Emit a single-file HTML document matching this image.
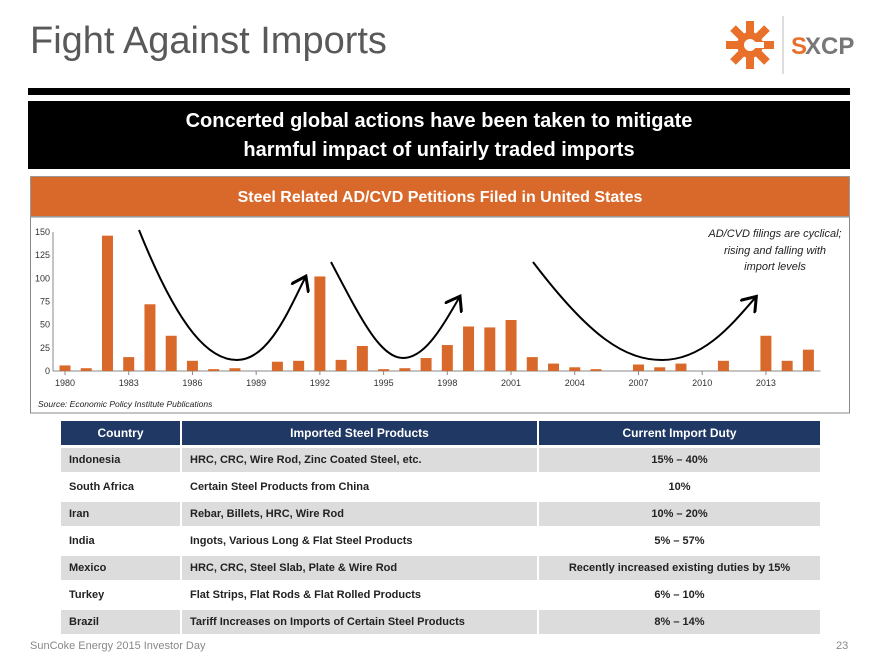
<!DOCTYPE html>
<html><head><meta charset="utf-8"><style>
body{margin:0;width:880px;height:660px;background:#fff;font-family:"Liberation Sans",sans-serif;position:relative;overflow:hidden}
.abs{position:absolute}
table{border-collapse:separate;border-spacing:2px 3px}
td{font-size:11px;font-weight:bold;color:#222;height:24px;padding:0 8px}
</style></head><body>
<div class="abs" style="left:30px;top:20px;font-size:38px;color:#595959">Fight Against Imports</div>
<svg class="abs" style="left:720px;top:12px" width="140" height="66">
<g fill="#e8702a" transform="translate(30,33)">
<circle r="13"/>
<rect x="-4" y="-24" width="8" height="48"/><rect x="-24" y="-4" width="48" height="8"/>
<rect x="-4" y="-24" width="8" height="48" transform="rotate(45)"/><rect x="-4" y="-24" width="8" height="48" transform="rotate(-45)"/>
<circle r="6" fill="#fff"/><rect x="0" y="-3" width="14" height="6" fill="#fff"/></g>
<line x1="63" y1="4" x2="63" y2="62" stroke="#bbb"/>
<text x="71" y="42" font-size="24" font-weight="bold" fill="#e8702a">S</text><text x="85" y="42" font-size="24" font-weight="bold" fill="#777">XCP</text>
</svg>
<div class="abs" style="left:28px;top:88px;width:822px;height:7px;background:#000"></div>
<div class="abs" style="left:28px;top:101px;width:822px;height:68px;background:#000;color:#fff;font-size:20px;font-weight:bold;text-align:center;line-height:29px;padding-top:6px;box-sizing:border-box">Concerted global actions have been taken to mitigate<br>harmful impact of unfairly traded imports</div>
<div class="abs" style="left:30px;top:176px;width:820px;height:41px;background:#d9692b;color:#fff;font-size:16px;font-weight:bold;text-align:center;line-height:41px;border:1px solid #999;box-sizing:border-box">Steel Related AD/CVD Petitions Filed in United States</div>
<svg id="chart" class="abs" style="left:30px;top:217px" width="820" height="197"></svg>
<div class="abs" style="left:59px;top:418px">
<table>
<tr style="background:#1f3864;color:#fff"><td style="width:103px;color:#fff;text-align:center;font-size:12px">Country</td><td style="width:339px;color:#fff;text-align:center;font-size:12px">Imported Steel Products</td><td style="width:265px;color:#fff;text-align:center;font-size:12px">Current Import Duty</td></tr>
<tr style="background:#dcdcdc"><td>Indonesia</td><td>HRC, CRC, Wire Rod, Zinc Coated Steel, etc.</td><td style="text-align:center">15% – 40%</td></tr>
<tr><td>South Africa</td><td>Certain Steel Products from China</td><td style="text-align:center">10%</td></tr>
<tr style="background:#dcdcdc"><td>Iran</td><td>Rebar, Billets, HRC, Wire Rod</td><td style="text-align:center">10% – 20%</td></tr>
<tr><td>India</td><td>Ingots, Various Long &amp; Flat Steel Products</td><td style="text-align:center">5% – 57%</td></tr>
<tr style="background:#dcdcdc"><td>Mexico</td><td>HRC, CRC, Steel Slab, Plate &amp; Wire Rod</td><td style="text-align:center">Recently increased existing duties by 15%</td></tr>
<tr><td>Turkey</td><td>Flat Strips, Flat Rods &amp; Flat Rolled Products</td><td style="text-align:center">6% – 10%</td></tr>
<tr style="background:#dcdcdc"><td>Brazil</td><td>Tariff Increases on Imports of Certain Steel Products</td><td style="text-align:center">8% – 14%</td></tr>
</table></div>
<div class="abs" style="left:30px;top:640px;font-size:11px;color:#888">SunCoke Energy 2015 Investor Day</div>
<div class="abs" style="left:836px;top:640px;font-size:11px;color:#888">23</div>
<script>
const years=[1980,1981,1982,1983,1984,1985,1986,1987,1988,1989,1990,1991,1992,1993,1994,1995,1996,1997,1998,1999,2000,2001,2002,2003,2004,2005,2006,2007,2008,2009,2010,2011,2012,2013,2014,2015];
const petitions=[6,3,146,15,72,38,11,2,3,0,10,11,102,12,27,2,3,14,28,48,47,55,15,8,4,2,0,7,4,8,0,11,0,38,11,23];
const yTicks=[0,25,50,75,100,125,150];
const xLabels=[1980,1983,1986,1989,1992,1995,1998,2001,2004,2007,2010,2013];
const NS="http://www.w3.org/2000/svg";
const svg=document.getElementById('chart');
const x0=35,yr=21.24,base=154,ppu=0.927;
const X=y=>x0+(y-1980)*yr;
const Y=v=>base-v*ppu;
function el(t,a){const e=document.createElementNS(NS,t);for(const k in a)e.setAttribute(k,a[k]);svg.appendChild(e);return e;}
const fr=el('rect',{x:0.5,y:0,width:819,height:196,fill:'#fff',stroke:'#888'});


const ya=el('line',{x1:x0-12,y1:Y(150),x2:x0-12,y2:base,stroke:'#888'});


yTicks.forEach(t=>{
 const tx=el('text',{x:x0-15,y:Y(t)+3,'font-size':9,'text-anchor':'end',fill:'#333'});tx.textContent=t;
 
 
});
const xa=el('line',{x1:x0-12,y1:base,x2:X(2015)+12,y2:base,stroke:'#888'});


xLabels.forEach(t=>{
 el('line',{x1:X(t),y1:base,x2:X(t),y2:base+4,stroke:'#888'});
 const tx=el('text',{x:X(t),y:base+15,'font-size':9,'text-anchor':'middle',fill:'#333'});tx.textContent=t;
 
 
});
years.forEach((y,i)=>{
 const r=el('rect',{x:X(y)-5.5,y:Y(petitions[i]),width:11,height:petitions[i]*ppu,fill:'#d9692b'});
 
 
});
el('defs',{}).innerHTML='<marker id="ah" markerWidth="10" markerHeight="10" refX="6" refY="5" orient="auto"><path d="M0,0 L7,5 L0,10" fill="none" stroke="#000" stroke-width="1.5"/></marker>';
["M109,13 C150,115 180,143 207,143 C238,143 258,95 275,61",
 "M301,45 C330,100 350,141 373,141 C395,141 412,110 429,81",
 "M503,45 C560,120 595,143 632,143 C672,143 700,110 725,81"].forEach(p=>{
 const a=el('path',{d:p,fill:'none',stroke:'#000','stroke-width':2,'marker-end':'url(#ah)'});
 
 
});
[["AD/CVD filings are cyclical;",20],["rising and falling with",37],["import levels",53]].forEach(l=>{
 const t=el('text',{x:745,y:l[1],'font-size':11,'font-style':'italic','text-anchor':'middle',fill:'#222'});t.textContent=l[0];
 
 
});
const s=el('text',{x:8,y:190,'font-size':8.5,'font-style':'italic',fill:'#222'});s.textContent='Source: Economic Policy Institute Publications';


</script>
</body></html>
